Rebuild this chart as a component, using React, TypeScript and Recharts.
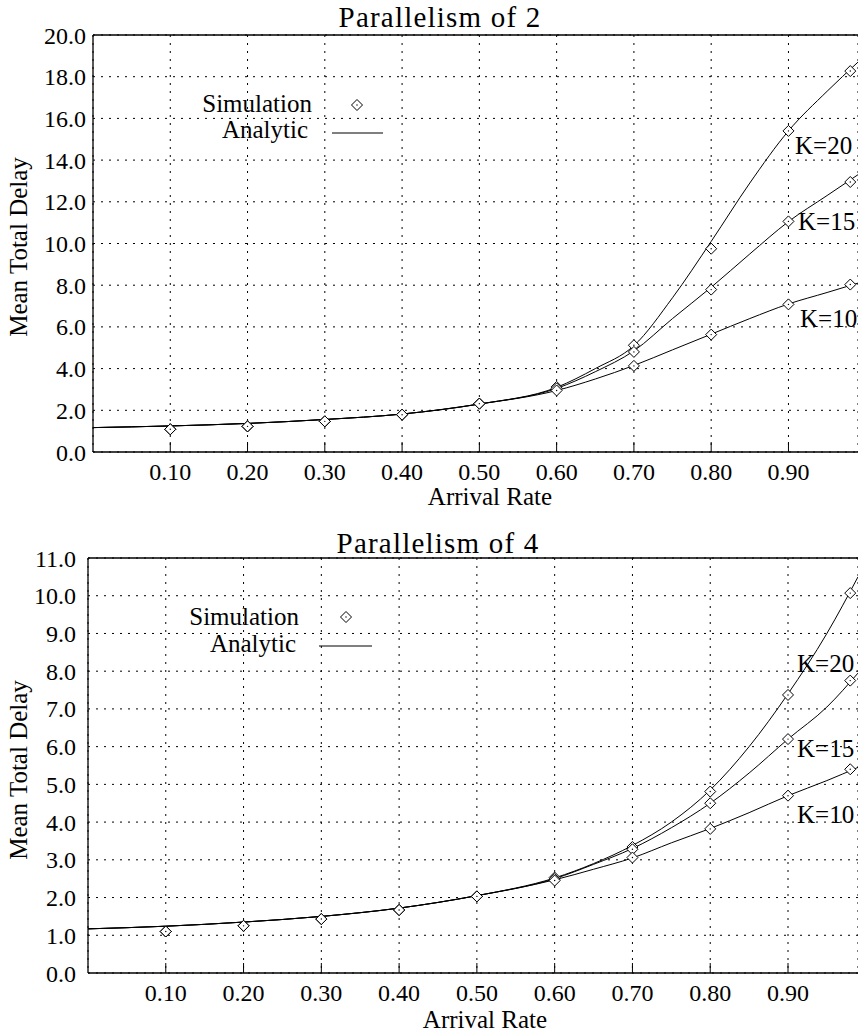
import { ComposedChart, Line, Scatter, XAxis, YAxis, CartesianGrid } from 'recharts'

const rateAnalytic = [0, 0.1, 0.2, 0.3, 0.4, 0.5, 0.6, 0.65, 0.7, 0.75, 0.8, 0.85, 0.9, 0.95, 0.99]
// arrival rates of the simulation points
const rateSim = [0.1, 0.2, 0.3, 0.4, 0.5, 0.6, 0.7, 0.8, 0.9, 0.98]

const xTicks = [0.1, 0.2, 0.3, 0.4, 0.5, 0.6, 0.7, 0.8, 0.9]
const yTicksP2 = [0, 2, 4, 6, 8, 10, 12, 14, 16, 18, 20]
const yTicksP4 = [0, 1, 2, 3, 4, 5, 6, 7, 8, 9, 10, 11]

// Parallelism of 2
const p2AnalyticK20 = [1.17, 1.25, 1.37, 1.56, 1.82, 2.3, 3.1, 4.0, 5.1, 7.4, 10.1, 12.9, 15.4, 17.3, 18.7]
const p2AnalyticK15 = [1.17, 1.25, 1.37, 1.56, 1.82, 2.3, 3.05, 3.85, 4.85, 6.4, 7.9, 9.5, 11.05, 12.3, 13.3]
const p2AnalyticK10 = [1.17, 1.25, 1.37, 1.56, 1.82, 2.3, 2.95, 3.5, 4.15, 4.9, 5.65, 6.4, 7.1, 7.65, 8.1]
const p2SimK20 = [1.09, 1.23, 1.47, 1.79, 2.32, 3.12, 5.12, 9.75, 15.4, 18.27]
const p2SimK15 = [1.09, 1.23, 1.47, 1.79, 2.32, 3.05, 4.8, 7.79, 11.06, 12.95]
const p2SimK10 = [1.09, 1.23, 1.47, 1.79, 2.32, 2.95, 4.13, 5.63, 7.08, 8.03]

// Parallelism of 4
const p4AnalyticK20 = [1.17, 1.24, 1.35, 1.5, 1.72, 2.05, 2.52, 2.9, 3.38, 4.0, 4.85, 6.0, 7.4, 9.0, 10.5]
const p4AnalyticK15 = [1.17, 1.24, 1.35, 1.5, 1.72, 2.05, 2.5, 2.88, 3.3, 3.85, 4.5, 5.3, 6.2, 7.05, 7.95]
const p4AnalyticK10 = [1.17, 1.24, 1.35, 1.5, 1.72, 2.05, 2.47, 2.75, 3.05, 3.45, 3.83, 4.25, 4.7, 5.1, 5.45]
const p4SimK20 = [1.1, 1.25, 1.43, 1.67, 2.03, 2.53, 3.34, 4.81, 7.37, 10.07]
const p4SimK15 = [1.1, 1.25, 1.43, 1.67, 2.03, 2.49, 3.28, 4.5, 6.2, 7.75]
const p4SimK10 = [1.1, 1.25, 1.43, 1.67, 2.03, 2.45, 3.06, 3.82, 4.7, 5.4]

const FONT = '"Liberation Serif", "Times New Roman", serif'

const toPoints = (xs: number[], ys: number[]) => xs.map((x, i) => ({ x, y: ys[i] }))

function Diamond(props: any) {
  const { cx, cy } = props
  if (cx == null || cy == null) return null
  const r = 5.5
  return (
    <g>
      <polygon
        points={`${cx},${cy - r} ${cx + r},${cy} ${cx},${cy + r} ${cx - r},${cy}`}
        fill="#fff"
        stroke="#000"
        strokeWidth={1}
      />
      <circle cx={cx} cy={cy} r={0.7} fill="#000" />
    </g>
  )
}

function Panel({ height, marginTop, yWidth, yMax, yTicks, yGap, xAxisHeight, analytic, sim }: {
  height: number
  marginTop: number
  yWidth: number
  yMax: number
  yTicks: number[]
  yGap: number
  xAxisHeight: number
  analytic: number[][]
  sim: number[][]
}) {
  const tickStyle = { fontFamily: FONT, fontSize: 24, fill: '#000' }
  return (
    <ComposedChart width={858} height={height} margin={{ top: marginTop, right: 0, left: 0, bottom: 0 }}>
      <CartesianGrid stroke="#000" strokeDasharray="2 6" strokeWidth={1} />
      <XAxis
        dataKey="x"
        type="number"
        domain={[0, 0.99]}
        allowDataOverflow
        ticks={xTicks}
        tickFormatter={(v: number) => v.toFixed(2)}
        tick={tickStyle}
        tickSize={-10}
        tickMargin={21}
        height={xAxisHeight}
        axisLine={{ stroke: '#000', strokeWidth: 1.3 }}
        tickLine={{ stroke: '#000' }}
        interval={0}
      />
      <XAxis
        xAxisId="top"
        orientation="top"
        type="number"
        domain={[0, 0.99]}
        allowDataOverflow
        ticks={xTicks}
        tick={false}
        tickSize={-10}
        height={1}
        axisLine={{ stroke: '#000', strokeWidth: 1.3 }}
        tickLine={{ stroke: '#000' }}
        interval={0}
      />
      <YAxis
        dataKey="y"
        type="number"
        domain={[0, yMax]}
        allowDataOverflow
        ticks={yTicks}
        tickFormatter={(v: number) => v.toFixed(1)}
        tick={tickStyle}
        width={yWidth}
        tickLine={false}
        tickSize={0}
        tickMargin={yGap}
        axisLine={{ stroke: '#000', strokeWidth: 1.3 }}
        interval={0}
      />
      {analytic.map((ys, i) => (
        <Line
          key={`a${i}`}
          data={toPoints(rateAnalytic, ys)}
          dataKey="y"
          type="monotone"
          stroke="#000"
          strokeWidth={1}
          dot={false}
          activeDot={false}
          isAnimationActive={false}
        />
      ))}
      {sim.map((ys, i) => (
        <Scatter
          key={`s${i}`}
          data={toPoints(rateSim, ys)}
          dataKey="y"
          shape={<Diamond />}
          isAnimationActive={false}
        />
      ))}
    </ComposedChart>
  )
}

const textStyle = { fontFamily: FONT, fontSize: 25, fill: '#000' }
const titleStyle = { fontFamily: FONT, fontSize: 29, fill: '#000', letterSpacing: 1.2 }

function Overlay() {
  return (
    <svg width={858} height={1033} style={{ position: 'absolute', left: 0, top: 0, pointerEvents: 'none' }}>
      {/* titles */}
      <text x={440} y={27} textAnchor="middle" style={titleStyle}>Parallelism of 2</text>
      <text x={438} y={553} textAnchor="middle" style={titleStyle}>Parallelism of 4</text>

      {/* axis titles */}
      <text x={490} y={505} textAnchor="middle" style={textStyle}>Arrival Rate</text>
      <text x={485} y={1028} textAnchor="middle" style={textStyle}>Arrival Rate</text>
      <text transform="translate(27,247) rotate(-90)" textAnchor="middle" style={textStyle}>Mean Total Delay</text>
      <text transform="translate(27,770) rotate(-90)" textAnchor="middle" style={textStyle}>Mean Total Delay</text>

      {/* legends */}
      <text x={312} y={112} textAnchor="end" style={textStyle}>Simulation</text>
      <text x={308} y={138} textAnchor="end" style={textStyle}>Analytic</text>
      <Diamond cx={357} cy={105} />
      <line x1={332} x2={383} y1={133} y2={133} stroke="#000" />

      <text x={299} y={625} textAnchor="end" style={textStyle}>Simulation</text>
      <text x={296} y={652} textAnchor="end" style={textStyle}>Analytic</text>
      <Diamond cx={346} cy={617} />
      <line x1={319} x2={372} y1={646} y2={646} stroke="#000" />

      {/* curve labels */}
      <text x={795} y={154} style={textStyle}>K=20</text>
      <text x={798} y={230} style={textStyle}>K=15</text>
      <text x={800} y={327} style={textStyle}>K=10</text>

      <text x={797} y={672} style={textStyle}>K=20</text>
      <text x={797} y={757} style={textStyle}>K=15</text>
      <text x={797} y={823} style={textStyle}>K=10</text>
    </svg>
  )
}

export default function App() {
  return (
    <div style={{ position: 'absolute', left: 0, top: 0, width: 858, height: 1033, overflow: 'hidden', background: '#fff' }}>
      <div style={{ position: 'absolute', left: 0, top: 0 }}>
        <Panel
          height={520}
          marginTop={34}
          yWidth={93}
          yMax={20}
          yTicks={yTicksP2}
          yGap={7}
          xAxisHeight={68}
          analytic={[p2AnalyticK20, p2AnalyticK15, p2AnalyticK10]}
          sim={[p2SimK20, p2SimK15, p2SimK10]}
        />
      </div>
      <div style={{ position: 'absolute', left: 0, top: 520 }}>
        <Panel
          height={513}
          marginTop={37}
          yWidth={88}
          yMax={11}
          yTicks={yTicksP4}
          yGap={12}
          xAxisHeight={60}
          analytic={[p4AnalyticK20, p4AnalyticK15, p4AnalyticK10]}
          sim={[p4SimK20, p4SimK15, p4SimK10]}
        />
      </div>
      <Overlay />
    </div>
  )
}
